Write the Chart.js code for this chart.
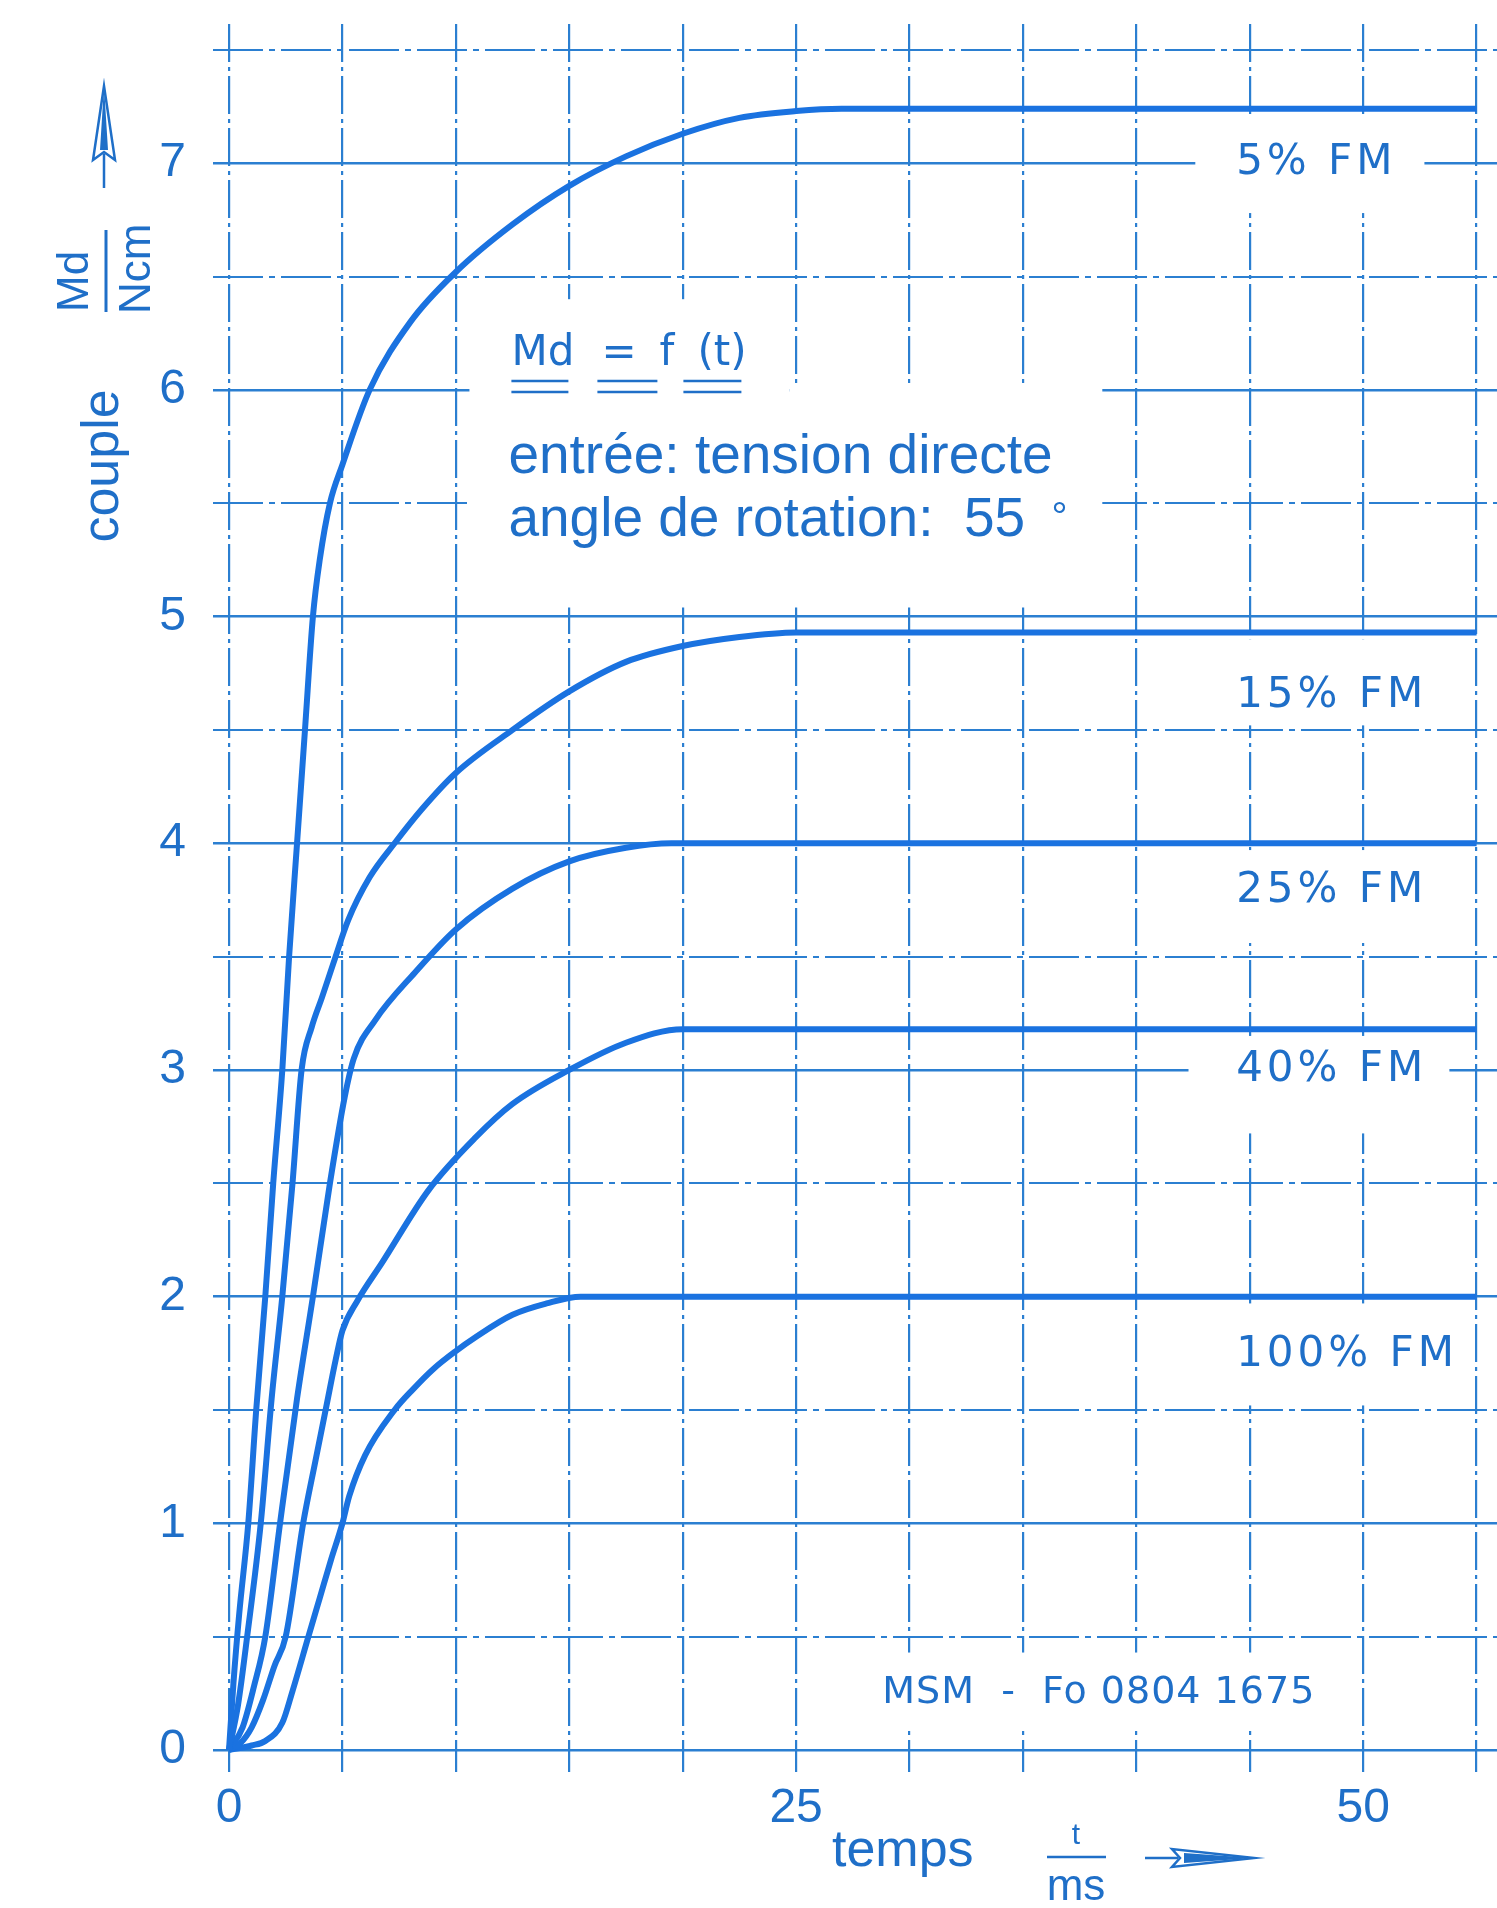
<!DOCTYPE html>
<html>
<head>
<meta charset="utf-8">
<title>Md = f(t)</title>
<script src="https://cdn.jsdelivr.net/npm/chart.js@4.4.0/dist/chart.umd.min.js"></script>
<style>
  html, body { margin: 0; padding: 0; background: #fff; }
  #wrap { width: 1497px; height: 1908px; }
</style>
</head>
<body>
<div id="wrap"><canvas id="chart" width="1497" height="1908"></canvas></div>
<script>
var curveLabels = ['5% FM', '15% FM', '25% FM', '40% FM', '100% FM'];

var t05  = [0, 0.2, 0.45, 0.85, 1.2, 1.6, 1.95, 2.35, 2.65, 3.0, 3.35, 3.7, 4.0, 4.45, 5.0, 6.2, 8.0, 10, 12.5, 15, 17.5, 20, 22.5, 25, 27, 55];
var md05 = [0, 0.3, 0.6, 1.0, 1.5, 2.0, 2.5, 3.0, 3.5, 4.0, 4.5, 5.0, 5.25, 5.5, 5.67, 6.0, 6.3, 6.52, 6.73, 6.9, 7.03, 7.13, 7.2, 7.23, 7.24, 7.24];

var t15  = [0, 0.4, 0.8, 1.4, 1.88, 2.35, 2.8, 3.2, 3.65, 4.1, 4.6, 5.25, 6.2, 7.3, 8.5, 10, 12.5, 15, 17.5, 20, 22.5, 25, 55];
var md15 = [0, 0.2, 0.5, 1.0, 1.55, 2.0, 2.5, 3.0, 3.19, 3.32, 3.47, 3.66, 3.85, 4.0, 4.15, 4.31, 4.5, 4.67, 4.8, 4.87, 4.91, 4.93, 4.93];

var t25  = [0, 0.6, 1.1, 1.6, 2.25, 3.0, 3.7, 4.45, 5.1, 5.5, 6.45, 8.2, 10, 12.5, 15, 17.5, 19.5, 55];
var md25 = [0, 0.1, 0.28, 0.5, 1.0, 1.55, 2.0, 2.5, 2.88, 3.05, 3.22, 3.43, 3.62, 3.8, 3.92, 3.98, 4.0, 4.0];

var t40  = [0, 0.5, 1.0, 1.5, 2.0, 2.5, 3.27, 3.8, 4.3, 4.7, 5.0, 5.65, 6.75, 8.8, 10.85, 12.5, 15, 17.5, 20, 55];
var md40 = [0, 0.03, 0.1, 0.22, 0.37, 0.5, 1.0, 1.27, 1.52, 1.72, 1.85, 1.98, 2.15, 2.47, 2.7, 2.85, 3.0, 3.12, 3.18, 3.18];

var t100  = [0, 1.0, 1.6, 2.35, 2.8, 3.5, 4.0, 4.5, 5.0, 5.3, 6.0, 7.3, 8.1, 9.0, 10.0, 10.85, 12.5, 14.0, 15.5, 55];
var md100 = [0, 0.02, 0.04, 0.12, 0.26, 0.5, 0.67, 0.84, 1.0, 1.12, 1.3, 1.5, 1.59, 1.68, 1.76, 1.82, 1.92, 1.97, 2.0, 2.0];

var xGrid = [0, 5, 10, 15, 20, 25, 30, 35, 40, 45, 50, 55];
var yGrid = [0, 0.5, 1, 1.5, 2, 2.5, 3, 3.5, 4, 4.5, 5, 5.5, 6, 6.5, 7, 7.5];
var xTickLabels = [0, 25, 50];
var yTickLabels = [0, 1, 2, 3, 4, 5, 6, 7];

var CURVE = '#1a72e0';
var GRID = '#2b7fd1';
var TEXT = '#1f6fc8';
var SANS = '"Liberation Sans", Arial, sans-serif';
var DIN = '"DejaVu Sans", sans-serif';

var series = [[t05, md05], [t15, md15], [t25, md25], [t40, md40], [t100, md100]];

function toPoints(t, m) {
    return t.map(function (v, i) { return { x: v, y: m[i] }; });
}

// white patches behind the labels (t0, t1, md top, md bottom)
var masks = [
    [42.6, 52.7, 7.20, 6.78],
    [44.2, 53.0, 4.90, 4.52],
    [44.2, 53.3, 3.97, 3.56],
    [42.3, 53.8, 3.15, 2.72],
    [44.2, 54.5, 1.97, 1.52],
    [28.3, 48.5, 0.43, 0.09],
    [10.6, 24.7, 6.40, 5.04],
    [24.7, 38.5, 6.02, 5.04]
];

var curveTags = [
    [44.4, 7.0], [44.4, 4.65], [44.4, 3.79], [44.4, 3.0], [44.4, 1.74]
];

function arrowUp(ctx, cx, tip, base, tail, hw) {
    ctx.beginPath();
    ctx.moveTo(cx, base - 6); ctx.lineTo(cx, tail);
    ctx.stroke();
    ctx.beginPath();
    ctx.moveTo(cx, tip); ctx.lineTo(cx - hw, base); ctx.lineTo(cx, base - 8); ctx.lineTo(cx + hw, base);
    ctx.closePath(); ctx.stroke();
    ctx.beginPath();
    ctx.moveTo(cx, tip); ctx.lineTo(cx - 4, base - 10); ctx.lineTo(cx + 4, base - 10);
    ctx.closePath(); ctx.fill();
}

function arrowRight(ctx, cy, tail, base, tip, hh) {
    ctx.beginPath();
    ctx.moveTo(tail, cy); ctx.lineTo(base + 6, cy);
    ctx.stroke();
    ctx.beginPath();
    ctx.moveTo(tip, cy); ctx.lineTo(base, cy - hh); ctx.lineTo(base + 8, cy); ctx.lineTo(base, cy + hh);
    ctx.closePath(); ctx.stroke();
    ctx.beginPath();
    ctx.moveTo(tip, cy); ctx.lineTo(base + 12, cy - 5); ctx.lineTo(base + 12, cy + 5);
    ctx.closePath(); ctx.fill();
}

function noPadding(scale) {
    scale.paddingTop = 0;
    scale.paddingBottom = 0;
    scale.paddingLeft = 0;
    scale.paddingRight = 0;
}

var decor = {
    id: 'decor',
    beforeDatasetsDraw: function (chart) {
        var ctx = chart.ctx, x = chart.scales.x, y = chart.scales.y;
        ctx.save();
        ctx.fillStyle = '#ffffff';
        masks.forEach(function (m) {
            var x0 = x.getPixelForValue(m[0]), x1 = x.getPixelForValue(m[1]);
            var y0 = y.getPixelForValue(m[2]), y1 = y.getPixelForValue(m[3]);
            ctx.fillRect(x0, y0, x1 - x0, y1 - y0);
        });
        ctx.restore();
    },
    afterDatasetsDraw: function (chart) {
        var ctx = chart.ctx, x = chart.scales.x, y = chart.scales.y;
        ctx.save();
        ctx.fillStyle = TEXT;
        ctx.strokeStyle = TEXT;

        // curve labels
        ctx.font = '42px ' + DIN;
        ctx.letterSpacing = '4px';
        ctx.textAlign = 'left';
        ctx.textBaseline = 'middle';
        curveTags.forEach(function (p, i) {
            ctx.fillText(curveLabels[i], x.getPixelForValue(p[0]), y.getPixelForValue(p[1]));
        });

        // MSM reference
        ctx.font = '38px ' + DIN;
        ctx.letterSpacing = '1px';
        ctx.fillText('MSM  -  Fo 0804 1675', x.getPixelForValue(28.8), y.getPixelForValue(0.25));
        ctx.letterSpacing = '0px';

        // Md = f (t) with double underlines
        var bx = x.getPixelForValue(12.45), by = y.getPixelForValue(6.11);
        ctx.textBaseline = 'alphabetic';
        ctx.font = '42px ' + DIN;
        ctx.fillText('Md', bx, by);
        ctx.fillText('=', bx + 90, by);
        ctx.fillText('f', bx + 148, by);
        ctx.fillText('(t)', bx + 186, by);
        ctx.lineWidth = 2.5;
        [[0, 57], [86, 146], [172, 230]].forEach(function (u) {
            [16, 27].forEach(function (dy) {
                ctx.beginPath();
                ctx.moveTo(bx + u[0], by + dy);
                ctx.lineTo(bx + u[1], by + dy);
                ctx.stroke();
            });
        });

        ctx.font = '55px ' + SANS;
        ctx.fillText('entrée: tension directe', bx - 3, y.getPixelForValue(5.633));
        ctx.fillText('angle de rotation:  55', bx - 3, y.getPixelForValue(5.355));
        ctx.font = '40px ' + SANS;
        ctx.fillText('°', bx + 540, y.getPixelForValue(5.38));
        ctx.restore();
    },
    afterDraw: function (chart) {
        var ctx = chart.ctx;
        ctx.save();
        ctx.fillStyle = TEXT;
        ctx.strokeStyle = TEXT;
        ctx.lineWidth = 2.5;

        // y axis title (rotated)
        arrowUp(ctx, 104, 86, 160, 188, 11);
        ctx.save();
        ctx.translate(104, 466);
        ctx.rotate(-Math.PI / 2);
        ctx.font = '52px ' + SANS;
        ctx.textAlign = 'center';
        ctx.textBaseline = 'middle';
        ctx.fillText('couple', 0, 0);
        ctx.restore();

        ctx.save();
        ctx.translate(104, 312);
        ctx.rotate(-Math.PI / 2);
        ctx.font = '44px ' + SANS;
        ctx.textAlign = 'left';
        ctx.textBaseline = 'alphabetic';
        ctx.fillText('Md', 0, -16);
        ctx.textBaseline = 'top';
        ctx.fillText('Ncm', -2, 12);
        ctx.lineWidth = 3;
        ctx.beginPath();
        ctx.moveTo(0, 2); ctx.lineTo(82, 2);
        ctx.stroke();
        ctx.restore();

        // x axis title
        ctx.font = '52px ' + SANS;
        ctx.textAlign = 'left';
        ctx.textBaseline = 'middle';
        ctx.fillText('temps', 832, 1852);
        ctx.textAlign = 'center';
        ctx.font = '30px ' + SANS;
        ctx.fillText('t', 1076, 1836);
        ctx.font = '44px ' + SANS;
        ctx.fillText('ms', 1076, 1888);
        ctx.lineWidth = 2.5;
        ctx.beginPath();
        ctx.moveTo(1047, 1857); ctx.lineTo(1106, 1857);
        ctx.stroke();
        arrowRight(ctx, 1858, 1145, 1172, 1254, 9);
        ctx.restore();
    }
};

new Chart(document.getElementById('chart'), {
    type: 'line',
    data: {
        datasets: series.map(function (s, i) {
            return {
                label: curveLabels[i],
                data: toPoints(s[0], s[1]),
                borderColor: CURVE,
                borderWidth: 6,
                pointRadius: 0,
                fill: false,
                cubicInterpolationMode: 'monotone'
            };
        })
    },
    options: {
        responsive: false,
        animation: false,
        devicePixelRatio: 1,
        layout: { padding: { left: 0, right: 0, top: 24, bottom: 0 } },
        plugins: { legend: { display: false }, tooltip: { enabled: false } },
        scales: {
            x: {
                type: 'linear',
                min: -0.705,
                max: 55.9,
                afterBuildTicks: function (scale) {
                    scale.ticks = xGrid.map(function (v) { return { value: v }; });
                },
                afterFit: function (scale) { scale.height = 136; noPadding(scale); },
                ticks: {
                    autoSkip: false,
                    maxRotation: 0,
                    padding: 8,
                    color: TEXT,
                    font: { family: SANS, size: 48 },
                    callback: function (v) { return xTickLabels.indexOf(v) >= 0 ? String(v) : ''; }
                },
                grid: { color: GRID, lineWidth: 2.2, drawTicks: false },
                border: { display: false, dash: [38, 5, 4, 5] }
            },
            y: {
                type: 'linear',
                min: -0.097,
                max: 7.614,
                afterBuildTicks: function (scale) {
                    scale.ticks = yGrid.map(function (v) { return { value: v }; });
                },
                afterFit: function (scale) { scale.width = 213; noPadding(scale); },
                ticks: {
                    autoSkip: false,
                    padding: 27,
                    color: TEXT,
                    font: { family: SANS, size: 48 },
                    callback: function (v) { return yTickLabels.indexOf(v) >= 0 ? String(v) : ''; }
                },
                grid: {
                    color: GRID,
                    drawTicks: false,
                    lineWidth: function (c) { return c.tick && Number.isInteger(c.tick.value) ? 2.6 : 2; }
                },
                border: {
                    display: false,
                    dash: function (c) { return c.tick && Number.isInteger(c.tick.value) ? [] : [50, 6, 6, 6]; }
                }
            }
        }
    },
    plugins: [decor]
});
</script>
</body>
</html>
